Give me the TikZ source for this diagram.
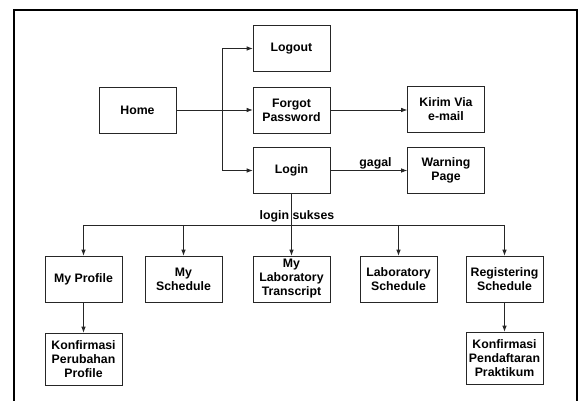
\documentclass[tikz,border=0pt]{standalone}
\usepackage{fontspec}
\setmainfont{Liberation Sans}
\usetikzlibrary{arrows.meta}
\begin{document}
\begin{tikzpicture}[x=1pt,y=-1pt,
  box/.style={draw=black!85,line width=0.6pt,minimum width=77pt,minimum height=46pt,inner sep=1pt,align=center,
    font=\fontsize{12.3pt}{14pt}\selectfont\bfseries},
  lbl/.style={font=\fontsize{12.3pt}{14pt}\selectfont\bfseries,inner sep=0pt},
  conn/.style={draw=black!85,line width=0.7pt},
  arr/.style={conn,-{Latex[length=6pt,width=4.5pt]}}]
\useasboundingbox (0,0) rectangle (579,401);
\draw[line width=1.1pt] (14,401) -- (14,10) -- (577,10) -- (577,401);
% top part
\node[box] (home) at (137.5,110) {Home};
\node[box] (logout) at (291.5,48.5) {Logout};
\node[box] (forgot) at (291.5,110) {Forgot\\Password};
\node[box] (login) at (291.5,170.5) {Login};
\node[box] (kirim) at (446,109.5) {Kirim Via\\e-mail};
\node[box] (warn) at (446,170.5) {Warning\\Page};
\coordinate (t1) at (222,48.5);
\coordinate (t3) at (222,170.5);
\draw[conn] (t1) -- (t3);
\draw[arr] (t1) -- (logout.west);
\draw[arr] (home.east) -- (forgot.west);
\draw[arr] (t3) -- (login.west);
\draw[arr] (forgot.east) -- (forgot.east -| kirim.west);
\draw[arr] (login.east) -- (login.east -| warn.west);
\node[lbl] (gagal) at (375.5,163) {gagal};
% bottom row
\node[box] (prof) at (83.5,279) {My Profile};
\node[box] (mysch) at (183.5,279) {My\\Schedule};
\node[box] (trans) at (291.5,279) {My\\Laboratory\\Transcript};
\node[box] (labsch) at (398.5,279) {Laboratory\\Schedule};
\node[box] (regsch) at (504.5,279) {Registering\\Schedule};
\node[box,minimum height=52pt] (konf1) at (83.5,359) {Konfirmasi\\Perubahan\\Profile};
\node[box,minimum height=52pt] (konf2) at (504.5,358) {Konfirmasi\\Pendaftaran\\Praktikum};
\coordinate (b1) at (83.5,225);
\coordinate (b5) at (504.5,225);
\draw[conn] (b1) -- (b5);
\draw[arr] (login.south) -- (trans.north);
\draw[arr] (b1) -- (prof.north);
\draw[arr] (mysch.north |- b1) -- (mysch.north);
\draw[arr] (labsch.north |- b1) -- (labsch.north);
\draw[arr] (b5) -- (regsch.north);
\draw[arr] (prof.south) -- (konf1.north);
\draw[arr] (regsch.south) -- (konf2.north);
\node[lbl] (sukses) at (297,216) {login sukses};
\end{tikzpicture}
\end{document}
